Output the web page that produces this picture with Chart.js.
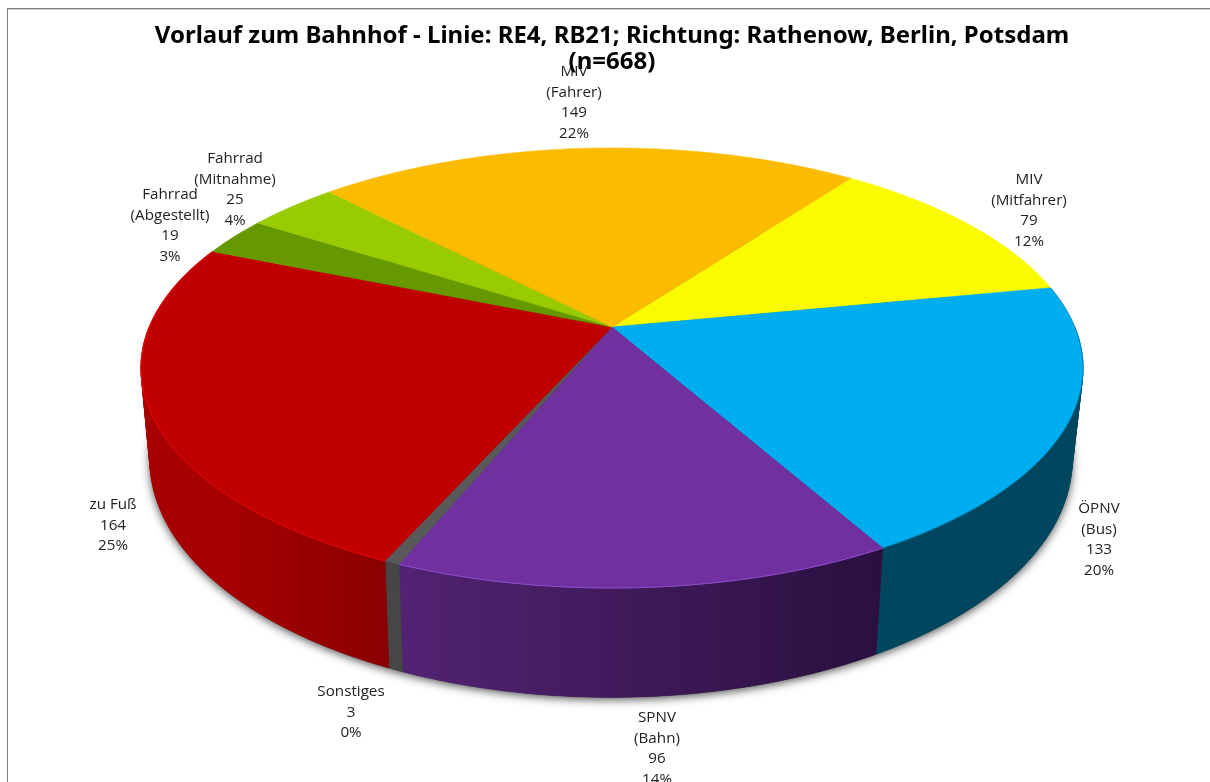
<!DOCTYPE html>
<html><head><meta charset="utf-8">
<style>html,body{margin:0;padding:0;background:#fff;overflow:hidden}canvas{display:block}</style>
<script src="https://cdn.jsdelivr.net/npm/chart.js@4/dist/chart.umd.min.js"></script>
</head><body><canvas id="c" width="1210" height="782"></canvas>
<script>
const categories = [["MIV","(Mitfahrer)"],["ÖPNV","(Bus)"],["SPNV","(Bahn)"],["Sonstiges"],["zu Fuß"],["Fahrrad","(Abgestellt)"],["Fahrrad","(Mitnahme)"],["MIV","(Fahrer)"]];
const values = [79,133,96,3,164,19,25,149];
const titleLines = ["Vorlauf zum Bahnhof - Linie: RE4, RB21; Richtung: Rathenow, Berlin, Potsdam","(n=668)"];
const sliceColors = ["#FBFB00","#00AEEF","#7030A0","#595959","#C00000","#669900","#99CC00","#FBBC00"];
const wallColors = [["#7f7f00","#7f7f00"],["#00465F","#00465F"],["#522373","#2b103f"],["#464646","#464646"],["#a60000","#8a0000"],["#3d5c00","#3d5c00"],["#5c7a00","#5c7a00"],["#997300","#997300"]];
const rimColors = [null,"rgba(0,90,130,0.45)","#8f4fd0",null,"#ee0808",null,null,null];
const labelAnchors = [[1029,180],[1099,509],[657,718],[351,692],[113,505],[170,195],[235,159],[574,72]];
const LINE = 20.4;
const R0 = 252;
const topFace = {a:462.8,b:212.4,c:0,dx:0};
const botFace = {a:453,b:229,c:89,dx:-1};
const K = 0.1863;

function pt(arc,f,ang){
  const s = arc.outerRadius/R0, u=Math.cos(ang), v=Math.sin(ang), w=1-K*v;
  return [arc.x+s*(f.dx+f.a*u/w), arc.y+s*(f.c+f.b*v/w)];
}
function rim(ctx,arc,f,a0,a1,first){
  const n=Math.max(2,Math.ceil(Math.abs(a1-a0)/0.01));
  for(let i=0;i<=n;i++){
    const p=pt(arc,f,a0+(a1-a0)*i/n);
    if(i===0&&first) ctx.moveTo(p[0],p[1]); else ctx.lineTo(p[0],p[1]);
  }
}
// adds the front part of the wall band as small quads that all wind the same way,
// so the part of the band that folds over at the silhouette stays filled
function wallBand(ctx,arc,a0,a1){
  const n=Math.max(2,Math.ceil(Math.abs(a1-a0)/0.01));
  for(let i=0;i<n;i++){
    const t0=a0+(a1-a0)*i/n,t1=a0+(a1-a0)*(i+1)/n;
    if(Math.sin(t0)<0&&Math.sin(t1)<0)continue;
    const q=[pt(arc,topFace,t0),pt(arc,topFace,t1),pt(arc,botFace,t1),pt(arc,botFace,t0)];
    let area=0;
    q.forEach((p,j)=>{const r=q[(j+1)%4];area+=p[0]*r[1]-r[0]*p[1];});
    if(area<0)q.reverse();
    ctx.moveTo(q[0][0],q[0][1]);
    for(let j=1;j<4;j++)ctx.lineTo(q[j][0],q[j][1]);
    ctx.closePath();
  }
}
const pie3d = {
  id:'pie3d',
  beforeDraw(chart){
    const ctx=chart.ctx;
    ctx.save();
    ctx.fillStyle='#fff';ctx.fillRect(0,0,chart.width,chart.height);
    ctx.fillStyle='#7f7f7f';ctx.fillRect(7,8,chart.width-7,1);ctx.fillRect(7,8,1,chart.height-8);
    ctx.fillStyle='#d0d0d0';ctx.fillRect(8,9,chart.width-8,1);
    const total=values.reduce((a,b)=>a+b,0);
    ctx.fillStyle='#222';ctx.textAlign='center';ctx.textBaseline='middle';
    ctx.font='15.2px "Open Sans"';
    categories.forEach((cat,i)=>{
      const lines=[...cat,String(values[i]),Math.round(values[i]/total*100)+'%'];
      lines.forEach((t,j)=>ctx.fillText(t,labelAnchors[i][0],labelAnchors[i][1]+j*LINE));
    });
    ctx.restore();
  },
  beforeDatasetsDraw(chart){
    const ctx=chart.ctx, arcs=chart.getDatasetMeta(0).data;
    ctx.save();
    // soft drop shadow under the lower disc
    ctx.save();
    ctx.shadowColor='rgba(0,0,0,0.7)';ctx.shadowBlur=10;ctx.shadowOffsetX=0;ctx.shadowOffsetY=2;
    ctx.fillStyle='#333';ctx.beginPath();
    rim(ctx,arcs[0],botFace,0,Math.PI*2,true);ctx.closePath();
    ctx.fill();
    ctx.restore();
    // side walls
    arcs.forEach((arc,i)=>{
      const a0=arc.startAngle,a1=arc.endAngle;
      const p0=pt(arc,botFace,a0),p1=pt(arc,botFace,a1);
      const g=ctx.createLinearGradient(Math.min(p0[0],p1[0]),0,Math.max(p0[0],p1[0])+1,0);
      g.addColorStop(0,wallColors[i][0]);g.addColorStop(1,wallColors[i][1]);
      ctx.fillStyle=g;ctx.strokeStyle=g;ctx.lineWidth=0.4;
      ctx.beginPath();
      wallBand(ctx,arc,a0,a1);
      ctx.fill();ctx.stroke();
    });
    // top faces
    arcs.forEach((arc,i)=>{
      const col=arc.options.backgroundColor;
      ctx.fillStyle=col;ctx.strokeStyle=col;ctx.lineWidth=0.5;
      ctx.beginPath();ctx.moveTo(arc.x,arc.y);
      rim(ctx,arc,topFace,arc.startAngle,arc.endAngle,false);
      ctx.closePath();ctx.fill();ctx.stroke();
    });
    arcs.forEach((arc,i)=>{
      if(!rimColors[i])return;
      ctx.strokeStyle=rimColors[i];ctx.lineWidth=1;
      ctx.beginPath();rim(ctx,arc,topFace,arc.startAngle,arc.endAngle,true);ctx.stroke();
    });
    ctx.restore();
    return false;
  }
};
new Chart(document.getElementById('c'),{
  type:'pie',
  data:{labels:categories.map(c=>c.join(' ')),datasets:[{data:values,backgroundColor:sliceColors,borderWidth:0}]},
  plugins:[pie3d],
  options:{
    responsive:false,animation:false,rotation:36.4,
    layout:{padding:{left:14,right:0,top:0,bottom:203}},
    plugins:{
      legend:{display:false},tooltip:{enabled:false},
      title:{display:true,text:titleLines,color:'#000',
        font:{family:'"Noto Sans"',size:24,weight:'bold',lineHeight:1.083},
        padding:{top:23,bottom:0}}
    }
  }
});
</script></body></html>
